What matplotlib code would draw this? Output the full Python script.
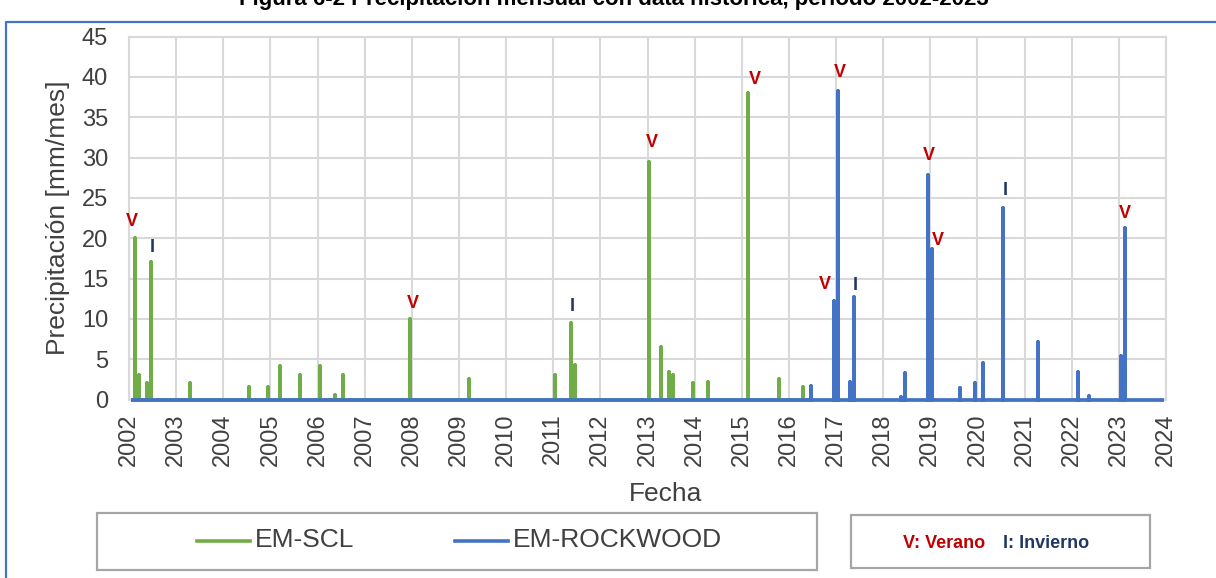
import numpy as np
import matplotlib
matplotlib.use("Agg")
import matplotlib.pyplot as plt
from matplotlib.lines import Line2D
from matplotlib.patches import Rectangle

plt.rcParams['font.family'] = ['Liberation Sans', 'DejaVu Sans']

# ---------------- data ----------------
title = "Figura 6-2 Precipitación mensual con data histórica, período 2002-2023"
series_names = ["EM-SCL", "EM-ROCKWOOD"]
x_label = "Fecha"
y_label = "Precipitación [mm/mes]"

scl_range = ("2002-01", "2016-06")
scl_months = ["2002-02", "2002-03", "2002-05", "2002-06", "2003-04", "2004-07",
              "2004-12", "2005-03", "2005-08", "2006-01", "2006-05", "2006-07",
              "2007-12", "2009-03", "2011-01", "2011-05", "2011-06", "2013-01",
              "2013-04", "2013-06", "2013-07", "2013-12", "2014-04", "2015-02",
              "2015-10", "2016-04"]
scl_values = [20.0, 3.0, 2.1, 17.1, 2.1, 1.5,
              1.5, 4.15, 3.0, 4.15, 0.55, 3.0,
              10.0, 2.5, 3.0, 9.5, 4.3, 29.5,
              6.5, 3.4, 3.0, 2.0, 2.15, 38.0,
              2.5, 1.5]

rw_range = ("2002-01", "2023-12")
rw_months = ["2016-06", "2016-12", "2017-01", "2017-04", "2017-05", "2018-05",
             "2018-06", "2018-12", "2019-01", "2019-08", "2019-12", "2020-02",
             "2020-07", "2021-04", "2022-02", "2022-05", "2023-01", "2023-02"]
rw_values = [1.7, 12.2, 38.3, 2.2, 12.7, 0.35,
             3.3, 27.8, 18.7, 1.4, 2.1, 4.5,
             23.7, 7.1, 3.45, 0.45, 5.4, 21.2]

season_series = ["EM-SCL", "EM-SCL", "EM-SCL", "EM-SCL", "EM-SCL", "EM-SCL",
                 "EM-ROCKWOOD", "EM-ROCKWOOD", "EM-ROCKWOOD", "EM-ROCKWOOD",
                 "EM-ROCKWOOD", "EM-ROCKWOOD", "EM-ROCKWOOD"]
season_months = ["2002-02", "2002-06", "2007-12", "2011-05", "2013-01", "2015-02",
                 "2016-12", "2017-01", "2017-05", "2018-12", "2019-01", "2020-07",
                 "2023-02"]
season_labels = ["V", "I", "V", "I", "V", "V", "V", "V", "I", "V", "V", "I", "V"]
season_text = {"V": "V: Verano", "I": "I: Invierno"}

year_ticks = list(range(2002, 2025))
y_ticks = list(range(0, 50, 5))

# ---------------- layout / style (pixels) ----------------
# label offsets (dx, gap above peak) in pixels
season_offsets = [(-3, 12), (1.5, 10), (3, 11), (1.5, 12), (2, 15), (7, 9),
                  (-9, 12), (2, 14), (2, 7), (1, 15), (6, 3.5), (2, 13), (0, 10)]

GREEN = "#70AD47"
BLUE = "#4472C4"
RED = "#C00000"
NAVY = "#1F3864"
GRID = "#D9D9D9"

W, H = 1216, 578
fig = plt.figure(figsize=(W / 100, H / 100), dpi=100)

def fx(px):
    return px / W

def fy(py):
    return 1 - py / H

ax_l, ax_r, ax_t, ax_b = 129, 1166, 36.5, 399.5
ax = fig.add_axes([fx(ax_l), fy(ax_b), fx(ax_r - ax_l), (ax_b - ax_t) / H])


def month_pos(s):
    y, m = map(int, s.split("-"))
    return y + (m - 0.5) / 12.0


def month_index(s):
    y, m = map(int, s.split("-"))
    return y * 12 + (m - 1)


def full_series(rng, months, values):
    i0, i1 = month_index(rng[0]), month_index(rng[1])
    idx = np.arange(i0, i1 + 1)
    pos = idx // 12 + ((idx % 12) + 0.5) / 12.0
    vals = np.zeros(len(idx))
    for mo, v in zip(months, values):
        vals[month_index(mo) - i0] = v
    return pos, vals


def spike_path(pos, vals):
    x = np.repeat(pos, 3)
    y = np.column_stack([np.zeros_like(vals), vals, np.zeros_like(vals)]).ravel()
    return x, y


lw = 2.7
p1, v1 = full_series(scl_range, scl_months, scl_values)
x1, y1 = spike_path(p1, v1)
l1, = ax.plot(x1, y1, color=GREEN, lw=lw, solid_joinstyle="round",
              solid_capstyle="butt", zorder=3, clip_on=False)
p2, v2 = full_series(rw_range, rw_months, rw_values)
x2, y2 = spike_path(p2, v2)
l2, = ax.plot(x2, y2, color=BLUE, lw=lw, solid_joinstyle="round",
              solid_capstyle="butt", zorder=4, clip_on=False)

ax.set_xlim(2002, 2024)
ax.set_ylim(0, 45)
ax.set_xticks(year_ticks)
ax.set_xticklabels([str(y) for y in year_ticks], rotation=90, fontsize=17,
                   color="#404040")
ax.set_yticks(y_ticks)
ax.set_yticklabels([str(v) for v in y_ticks], fontsize=17, color="#404040")
ax.tick_params(axis="x", length=0, pad=10)
ax.tick_params(axis="y", length=0, pad=15)
ax.grid(True, color=GRID, lw=1.5, zorder=0)
ax.set_axisbelow(True)
for s in ax.spines.values():
    s.set_color(GRID)
    s.set_linewidth(1.5)

ax.set_xlabel(x_label, fontsize=19, color="#404040")
ax.xaxis.set_label_coords((666 - ax_l) / (ax_r - ax_l), -(494 - ax_b) / (ax_b - ax_t))
ax.xaxis.label.set_va("center")
ax.set_ylabel(y_label, fontsize=19, color="#404040")
ax.yaxis.set_label_coords(-(ax_l - 58) / (ax_r - ax_l), 0.5)
ax.yaxis.label.set_va("center")
ax.yaxis.label.set_ha("center")

# season labels
lookup = {"EM-SCL": dict(zip(scl_months, scl_values)),
          "EM-ROCKWOOD": dict(zip(rw_months, rw_values))}
for ser, mo, lab, (dx, gap) in zip(season_series, season_months, season_labels,
                                   season_offsets):
    v = lookup[ser][mo]
    ax.annotate(lab, (month_pos(mo), v), xytext=(dx * 0.72, gap * 0.72),
                textcoords="offset points", ha="center", va="baseline",
                fontsize=13, fontweight="bold",
                color=RED if lab == "V" else NAVY, zorder=6,
                annotation_clip=False)

# outer blue frame
fig.add_artist(Line2D([fx(6), fx(6), fx(W + 5)], [fy(H + 5), fy(22), fy(22)],
                      color=BLUE, lw=1.6, transform=fig.transFigure))

# title (partially cut at the top, as in the source image)
fig.text(fx(614), fy(5), title, ha="center", va="baseline", fontsize=16,
         fontweight="bold", color="#000000")

# legend box 1
fig.add_artist(Rectangle((fx(97), fy(570)), fx(817 - 97), (570 - 513) / H,
                         transform=fig.transFigure, fill=False,
                         edgecolor="#A6A6A6", lw=1.6))
leg_y = fy(541)
for line, name, x0 in [(l1, series_names[0], 197), (l2, series_names[1], 455)]:
    fig.add_artist(Line2D([fx(x0), fx(x0 + 53)], [leg_y, leg_y],
                          color=line.get_color(), lw=2.6,
                          transform=fig.transFigure))
    fig.text(fx(x0 + 58), fy(540), name, ha="left", va="center", fontsize=19,
             color="#404040")

# legend box 2
fig.add_artist(Rectangle((fx(851), fy(568)), fx(1150 - 851), (568 - 515) / H,
                         transform=fig.transFigure, fill=False,
                         edgecolor="#A6A6A6", lw=1.6))
fig.text(fx(903), fy(543), season_text["V"], ha="left", va="center",
         fontsize=13, fontweight="bold", color=RED)
fig.text(fx(1003), fy(543), season_text["I"], ha="left", va="center",
         fontsize=13, fontweight="bold", color=NAVY)

fig.savefig("out.png", dpi=100)
